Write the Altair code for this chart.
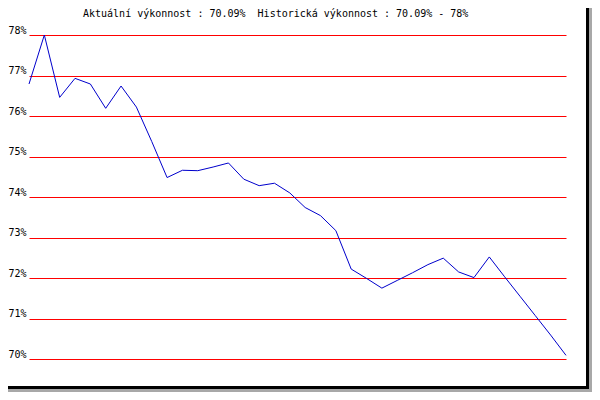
import altair as alt
import pandas as pd

# Data
idx = list(range(36))
values = [76.79, 78.00, 76.46, 76.93, 76.79, 76.19, 76.74, 76.22, 75.37, 74.48,
          74.66, 74.65, 74.74, 74.84, 74.44, 74.28, 74.34, 74.10, 73.74, 73.54,
          73.17, 72.22, 71.99, 71.75, 71.94, 72.13, 72.33, 72.49, 72.15, 72.01,
          72.52, 72.03, 71.55, 71.07, 70.59, 70.09]
y_ticks = [70, 71, 72, 73, 74, 75, 76, 77, 78]
title_text = ["Aktuální výkonnost : 70.09%\u00a0\u00a0Historická výkonnost : 70.09% - 78%"]

W, H = 537, 324
PAD_L, PAD_T = 21, 27
TOTAL_W, TOTAL_H = 584, 384
FONT = "DejaVu Sans Mono"

df = pd.DataFrame({"i": idx, "v": values})
dummy = pd.DataFrame({"a": [0]})

x_enc = alt.X("i:Q", scale=alt.Scale(domain=[0, 35], nice=False, zero=False), axis=None)
y_enc = alt.Y(
    "v:Q",
    scale=alt.Scale(domain=[70, 78], nice=False, zero=False),
    axis=alt.Axis(
        values=y_ticks,
        labelExpr="datum.value + '%'",
        title=None,
        domain=False,
        ticks=False,
        labelPadding=3,
        labelBaseline="bottom",
        labelFont=FONT,
        labelFontSize=10,
        labelColor="black",
        grid=True,
        gridColor="#ff0000",
        gridOpacity=1,
        gridWidth=1,
    ),
)

line = alt.Chart(df).mark_line(color="#0000cc", strokeWidth=1).encode(x=x_enc, y=y_enc)

title = alt.Chart(pd.DataFrame({"t": title_text})).mark_text(
    font=FONT, fontSize=10, align="left", baseline="alphabetic", color="black"
).encode(text="t:N", x=alt.value(54), y=alt.value(-18))

# frame (right/bottom black border with grey drop shadow), fitted in the visible area
R_IN = TOTAL_W - PAD_L       # right edge of chart, relative to plot origin
B_IN = TOTAL_H - PAD_T       # bottom edge of chart, relative to plot origin
shadow_r = alt.Chart(dummy).mark_rect(color="#a8a8a8").encode(
    x=alt.value(R_IN - 3), x2=alt.value(R_IN), y=alt.value(-PAD_T), y2=alt.value(B_IN))
shadow_b = alt.Chart(dummy).mark_rect(color="#a8a8a8").encode(
    x=alt.value(-PAD_L), x2=alt.value(R_IN), y=alt.value(B_IN - 3), y2=alt.value(B_IN))
border_r = alt.Chart(dummy).mark_rect(color="black").encode(
    x=alt.value(R_IN - 6), x2=alt.value(R_IN - 3), y=alt.value(-PAD_T), y2=alt.value(B_IN - 3))
border_b = alt.Chart(dummy).mark_rect(color="black").encode(
    x=alt.value(-PAD_L), x2=alt.value(R_IN - 3), y=alt.value(B_IN - 6), y2=alt.value(B_IN - 3))

chart = alt.layer(line, title, shadow_r, shadow_b, border_r, border_b).properties(
    width=W,
    height=H,
    padding={"left": PAD_L, "top": PAD_T, "right": TOTAL_W - PAD_L - W, "bottom": TOTAL_H - PAD_T - H},
    autosize=alt.AutoSizeParams(type="none"),
    background="white",
).configure_view(stroke=None)

chart.save("out.html", embed_options={"renderer": "svg", "actions": False})
